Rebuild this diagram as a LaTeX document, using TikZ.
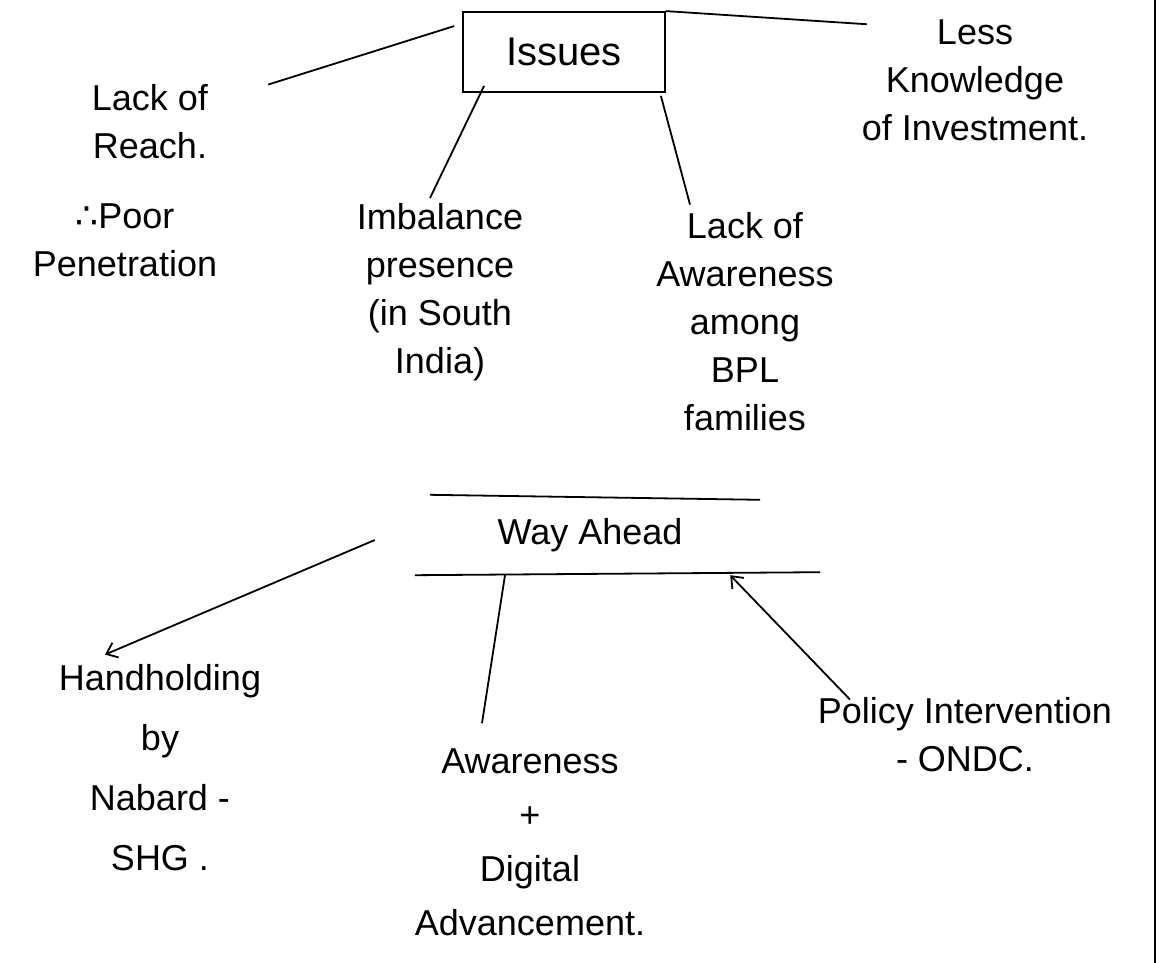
\documentclass[tikz,border=0pt]{standalone}
\usepackage{fontspec}
\setmainfont{Liberation Sans}
\newfontfamily\symfont{DejaVu Sans}
\usetikzlibrary{calc,arrows.meta}
\tikzset{
  txt/.style={align=center, inner sep=0pt, font=\fontsize{36}{48}\selectfont},
  boxnode/.style={draw, line width=1.8pt, inner sep=0pt, minimum width=202pt, minimum height=80pt, font=\fontsize{40}{48}\selectfont},
  link/.style={line width=1.8pt},
  arr/.style={line width=1.8pt, -{Straight Barb[length=10pt,width=16pt]}}
}
\begin{document}
\begin{tikzpicture}[x=1pt,y=-1pt]
\useasboundingbox[fill=white] (0,0) rectangle (1171,963);
% issues part
\node[boxnode] (issues) at (564,52) {Issues};
\node[txt] (reach) at (150,122) {Lack of\\Reach.};
\node[txt] (poor) at (125,240) {{\symfont ∴}Poor\\Penetration};
\node[txt] (imb) at (440,292) {Imbalance\\presence\\(in South\\India)};
\node[txt] (aware) at (745,322) {Lack of\\Awareness\\among\\BPL\\families};
\node[txt] (less) at (975,80) {Less\\Knowledge\\of Investment.};
\draw[link] ($(issues.north west)+(-8,15)$) -- ($(reach.north east)+(60,0)$);
\draw[link] ($(issues.south west)+(22,-7)$) -- ($(imb.north)+(-10,-5)$);
\draw[link] ($(issues.south east)+(-5,3)$) -- ($(aware.north)+(-55,-8)$);
\draw[link] (issues.north east) -- ($(less.north west)+(5,5)$);
% way ahead part
\node[txt, minimum width=320pt, minimum height=80pt] (way) at (590,535) {Way Ahead};
\draw[link] (way.north west) -- ($(way.north east)+(10,5)$);
\draw[link] ($(way.south west)+(-15,0)$) -- ($(way.south east)+(70,-3)$);
\node[txt, font=\fontsize{36}{60}\selectfont] (hand) at (160,768) {Handholding\\by\\Nabard -\\SHG .};
\node[txt, font=\fontsize{36}{54}\selectfont] (aw2) at (530,842) {Awareness\\+\\Digital\\Advancement.};
\node[txt] (policy) at (965,735) {Policy Intervention\\- ONDC.};
\draw[arr] ($(way.west)+(-55,5)$) -- ($(hand.north)+(-55,-10)$);
\draw[link] ($(way.south)+(-85,0)$) -- ($(aw2.north)+(-48,-25)$);
\draw[arr] ($(policy.north)+(-115,2)$) -- ($(way.south east)+(-20,0)$);
% page margin line
\draw[line width=1.5pt] (1155,0) -- (1155,963);
\end{tikzpicture}
\end{document}
